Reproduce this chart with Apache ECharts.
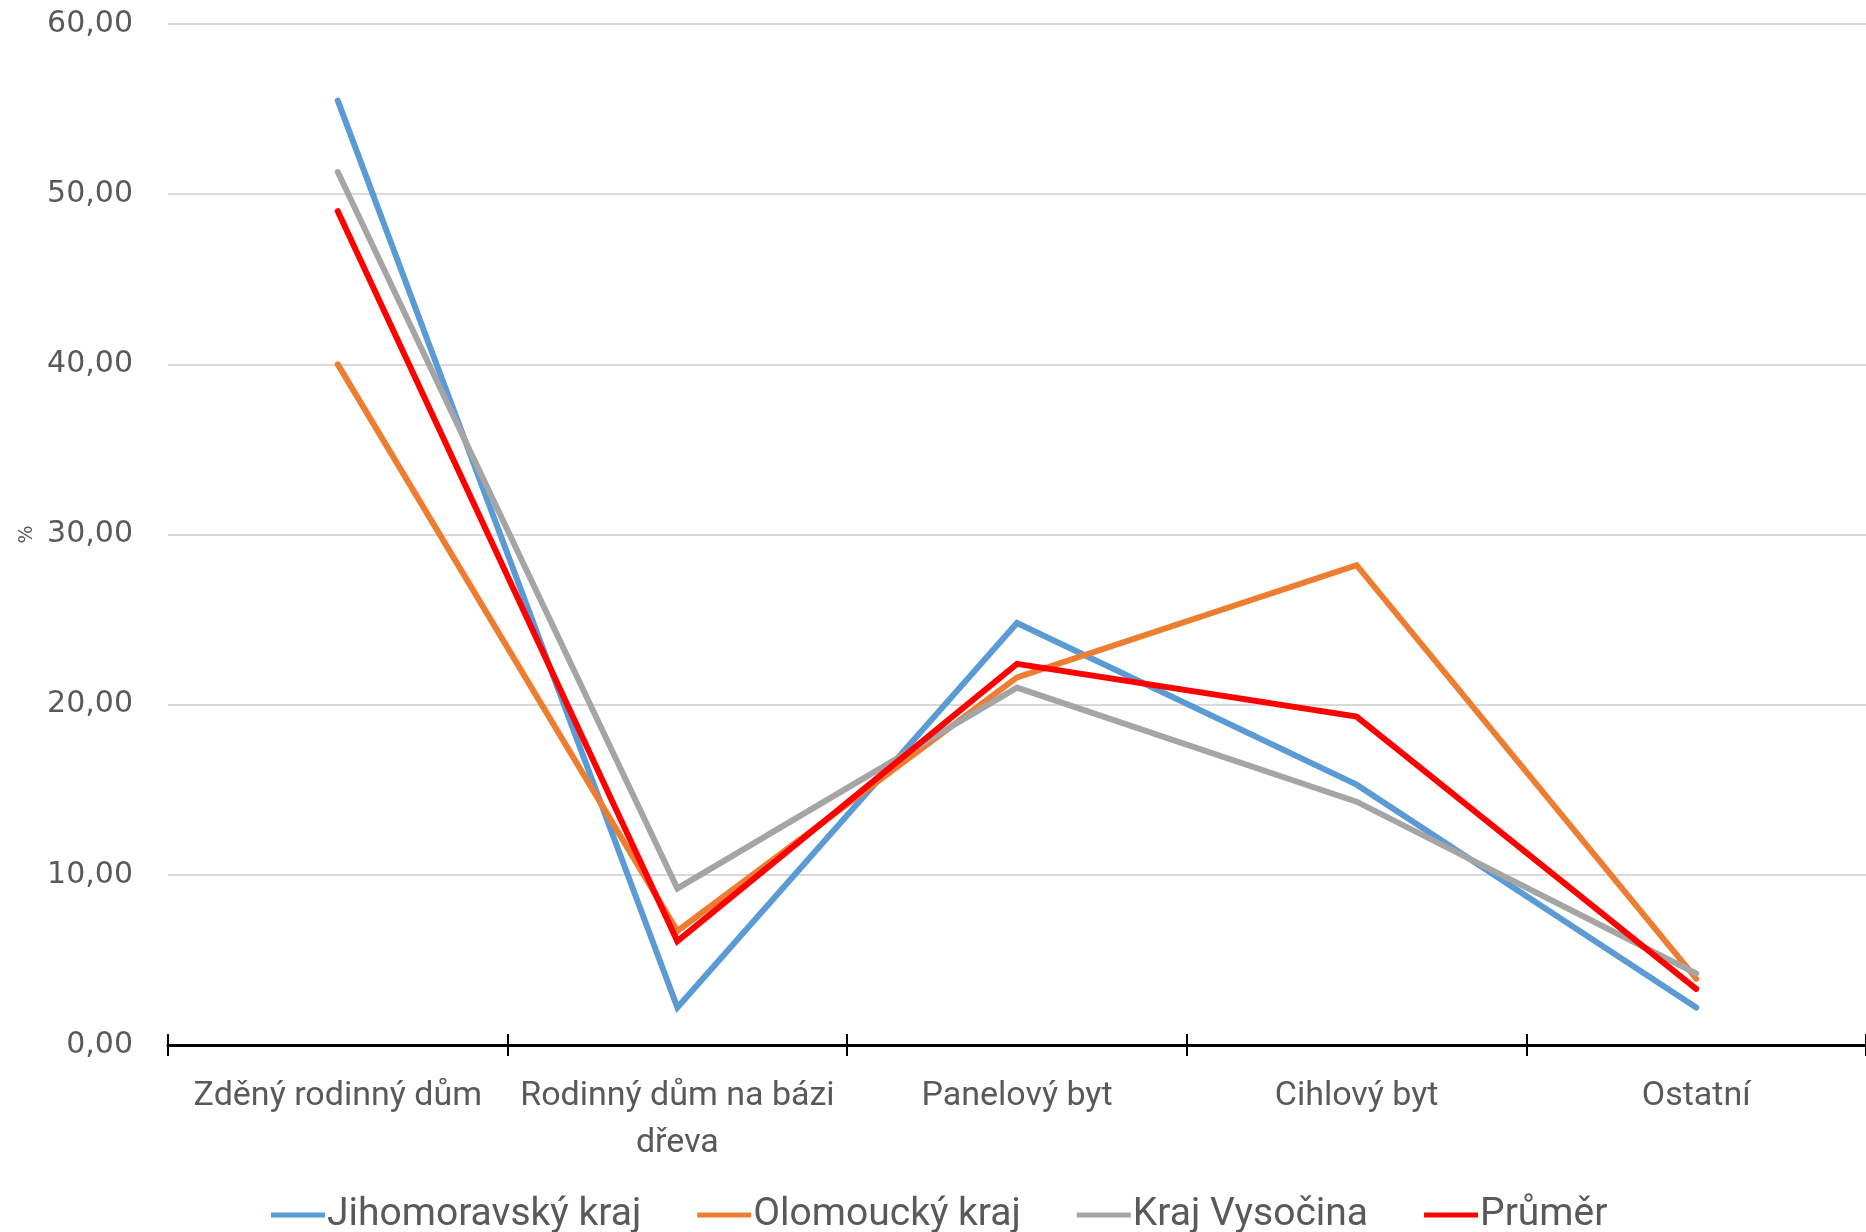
<!DOCTYPE html>
<html><head><meta charset="utf-8">
<script src="https://cdn.jsdelivr.net/npm/echarts@6/dist/echarts.min.js"></script>
<style>html,body{margin:0;padding:0;background:#fff}#c{width:1866px;height:1232px}</style>
</head><body><div id="c"></div>
<script>
const categories = ['Zděný rodinný dům', 'Rodinný dům na bázi\ndřeva', 'Panelový byt', 'Cihlový byt', 'Ostatní'];
const jihomoravsky = [55.5, 2.2, 24.8, 15.3, 2.2];
const olomoucky = [40.0, 6.7, 21.6, 28.2, 3.9];
const vysocina = [51.3, 9.2, 21.0, 14.3, 4.2];
const prumer = [49.0, 6.1, 22.4, 19.3, 3.3];
const seriesNames = ['Jihomoravský kraj', 'Olomoucký kraj', 'Kraj Vysočina', 'Průměr'];
const colors = ['#5b9bd5', '#ed7d31', '#a5a5a5', '#ff0000'];
const values = [jihomoravsky, olomoucky, vysocina, prumer];

const labelFont = '"Roboto", sans-serif';
const chart = echarts.init(document.getElementById('c'), null, {renderer: 'canvas'});
chart.setOption({
  animation: false,
  color: colors,
  grid: {left: 168, right: 0, top: 24, bottom: 187, containLabel: false},
  legend: {
    left: 266, top: 1190,
    itemWidth: 54, itemHeight: 5, itemGap: 56,
    icon: 'rect',
    textStyle: {fontFamily: labelFont, fontSize: 39, lineHeight: 40, color: '#595959', padding: [0,0,0,-3]},
    data: seriesNames
  },
  xAxis: [{
    type: 'category', data: categories, boundaryGap: true,
    axisLine: {lineStyle: {color: '#000', width: 3}},
    axisTick: {show: true, length: 11, lineStyle: {color: '#000', width: 2}},
    axisLabel: {fontFamily: labelFont, fontSize: 34, color: '#595959', margin: 28, lineHeight: 47, interval: 0}
  }, {
    type: 'category', data: categories, boundaryGap: true, position: 'bottom',
    axisLine: {show: false},
    axisTick: {show: true, inside: true, length: 11, lineStyle: {color: '#000', width: 2}},
    axisLabel: {show: false}
  }],
  yAxis: {
    type: 'value', min: 0, max: 60, interval: 10,
    name: '%', nameLocation: 'middle', nameGap: 131, nameRotate: 90,
    nameTextStyle: {fontFamily: 'DejaVu Sans', fontSize: 19, color: '#595959'},
    axisLine: {show: false}, axisTick: {show: false},
    axisLabel: {fontFamily: 'DejaVu Sans', fontSize: 30, color: '#595959', margin: 35,
      formatter: v => v.toFixed(2).replace('.', ',')},
    splitLine: {lineStyle: {color: '#d9d9d9', width: 2}}
  },
  series: values.map((d, i) => ({
    name: seriesNames[i], type: 'line', data: d, showSymbol: false, symbol: 'none',
    lineStyle: {width: 6, color: colors[i], cap: 'round', join: 'miter'},
    itemStyle: {color: colors[i]}
  }))
});
</script></body></html>
